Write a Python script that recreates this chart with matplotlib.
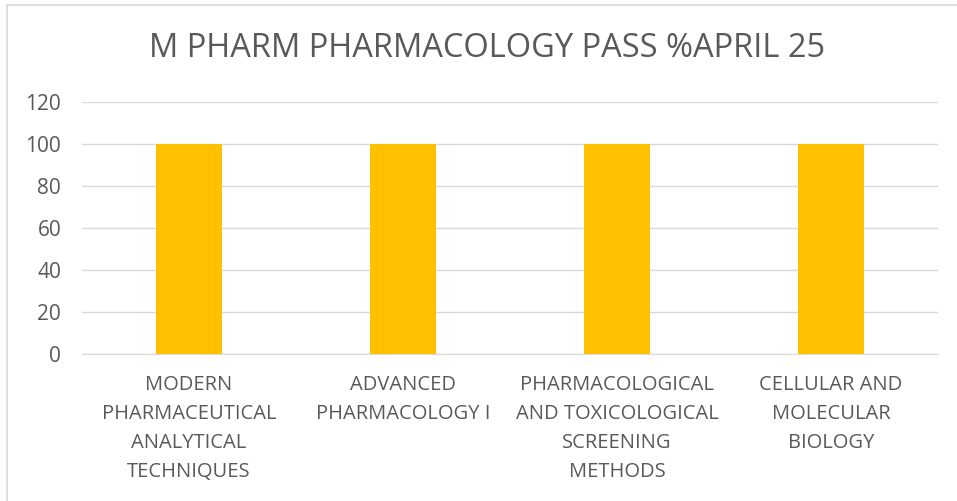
import matplotlib
matplotlib.use("Agg")
import matplotlib.pyplot as plt
from matplotlib.lines import Line2D

SUBJECTS = [
    "MODERN\nPHARMACEUTICAL\nANALYTICAL\nTECHNIQUES",
    "ADVANCED\nPHARMACOLOGY I",
    "PHARMACOLOGICAL\nAND TOXICOLOGICAL\nSCREENING\nMETHODS",
    "CELLULAR AND\nMOLECULAR\nBIOLOGY",
]
PASS_PCT = [100, 100, 100, 100]
Y_TICKS = [0, 20, 40, 60, 80, 100, 120]

TEXT = "#595959"
plt.rcParams["font.family"] = ["Open Sans", "DejaVu Sans"]


def main():
    fig = plt.figure(figsize=(9.57, 5.01), dpi=100)
    ax = fig.add_axes([0.0857, 0.2934, 0.8943, 0.503])

    x = range(len(SUBJECTS))
    ax.bar(x, PASS_PCT, width=0.31, color="#FFC000", zorder=3)

    ax.set_ylim(0, 120)
    ax.set_xlim(-0.5, len(SUBJECTS) - 0.5)
    ax.set_yticks(Y_TICKS)
    ax.set_xticks(list(x))
    ax.set_xticklabels(SUBJECTS, fontsize=14.5, color=TEXT, linespacing=1.6)
    ax.tick_params(axis="y", labelsize=15, labelcolor=TEXT, length=0, pad=15)
    ax.tick_params(axis="x", length=0, pad=15)
    ax.yaxis.grid(True, color="#D9D9D9", linewidth=1, zorder=0)

    for side in ("top", "right", "left"):
        ax.spines[side].set_visible(False)
    ax.spines["bottom"].set_color("#D9D9D9")

    fig.text(0.509, 0.904, "M PHARM PHARMACOLOGY PASS %APRIL 25",
             ha="center", va="center", fontsize=23.5, color=TEXT)

    # chart frame: only the top and left edges fall inside the image
    fx, fy = 6.5 / 957, 1 - 4.5 / 501
    for xs, ys in (([fx, 1], [fy, fy]), ([fx, fx], [0, fy])):
        fig.lines.append(Line2D(xs, ys, transform=fig.transFigure,
                                color="#D9D9D9", linewidth=1.2))

    fig.savefig("out.png", dpi=100)
    plt.close(fig)


if __name__ == "__main__":
    main()
